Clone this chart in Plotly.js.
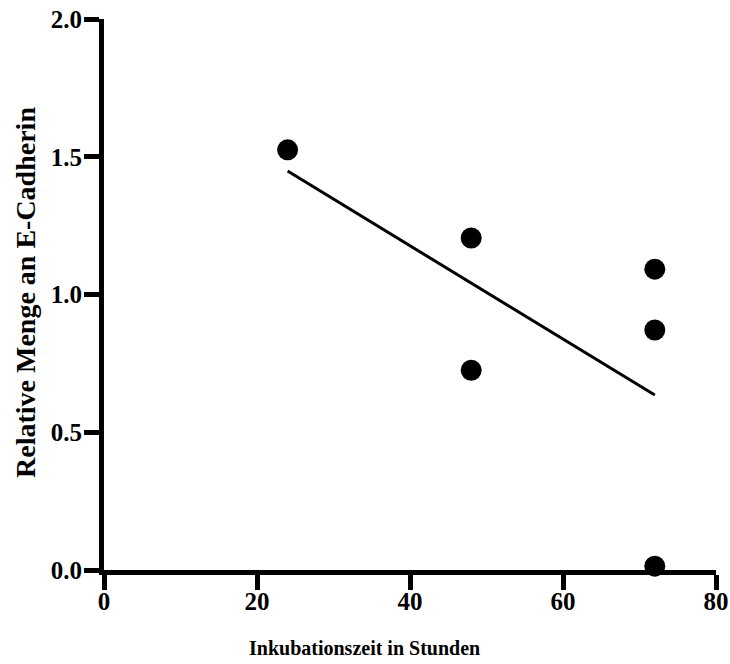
<!DOCTYPE html>
<html>
<head>
<meta charset="utf-8">
<script src="https://cdn.plot.ly/plotly-3.0.1.min.js"></script>
<style>html,body{margin:0;padding:0;background:#fff;}</style>
</head>
<body>
<div id="chart" style="width:730px;height:664px;"></div>
<script>
const xValues = [24, 48, 48, 72, 72, 72];
const yValues = [1.525, 1.205, 0.725, 1.092, 0.871, 0.014];
const fitX = [24, 72];
const fitY = [1.448, 0.635];
const xTicks = [0, 20, 40, 60, 80];
const yTicks = [0, 0.5, 1.0, 1.5, 2.0];
const xTitle = 'Inkubationszeit in Stunden';
const yTitle = 'Relative Menge an E-Cadherin';

const fam = '"Liberation Serif", "Times New Roman", serif';

const data = [
  {x: fitX, y: fitY, mode: 'lines', type: 'scatter', line: {color: '#000', width: 3}, hoverinfo: 'skip', cliponaxis: false},
  {x: xValues, y: yValues, mode: 'markers', type: 'scatter', marker: {color: '#000', size: 21}, cliponaxis: false}
];

const axisCommon = {
  showgrid: false, zeroline: false, showline: true, linecolor: '#000', linewidth: 5,
  ticks: 'outside', ticklen: 15, tickwidth: 5, tickcolor: '#000',
  tickfont: {family: fam, size: 25, color: '#000'}
};

const layout = {
  width: 730, height: 664,
  margin: {l: 104, r: 14, t: 19, b: 94},
  showlegend: false,
  paper_bgcolor: '#fff', plot_bgcolor: '#fff',
  xaxis: Object.assign({}, axisCommon, {range: [0, 80], tickvals: xTicks, ticklabelstandoff: -10,
    ticktext: xTicks.map(v => '<b>' + v + '</b>')}),
  yaxis: Object.assign({}, axisCommon, {range: [0, 2], tickvals: yTicks, ticklabelstandoff: -3,
    ticktext: yTicks.map(v => '<b>' + v.toFixed(1) + '</b>')}),
  annotations: [
    {text: '<b>' + xTitle + '</b>', xref: 'paper', yref: 'paper', x: (364 - 104) / 612, y: -(648 - 570) / 551,
     xanchor: 'center', yanchor: 'middle', showarrow: false, font: {family: fam, size: 20, color: '#000'}},
    {text: '<b>' + yTitle + '</b>', xref: 'paper', yref: 'paper', x: -(104 - 25) / 612, y: (570 - 293) / 551, textangle: -90,
     xanchor: 'center', yanchor: 'middle', showarrow: false, font: {family: fam, size: 28, color: '#000'}}
  ]
};

Plotly.newPlot('chart', data, layout, {displayModeBar: false, staticPlot: true});
</script>
</body>
</html>
